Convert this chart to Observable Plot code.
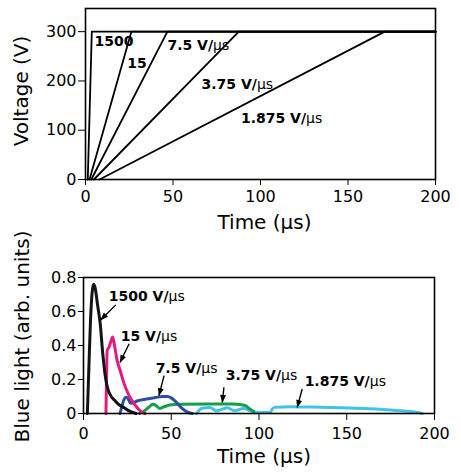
<!DOCTYPE html>
<html><head><meta charset="utf-8">
<script src="https://cdn.jsdelivr.net/npm/d3@7"></script>
<script src="https://cdn.jsdelivr.net/npm/@observablehq/plot@0.6"></script>
<style>
body{margin:0;background:#fff;}
#wrap{position:relative;width:461px;height:475px;}
#toppanel,#botpanel{position:absolute;left:0;}
#toppanel{top:0;} #botpanel{top:245px;}
</style></head><body>
<div id="wrap"><div id="toppanel"></div><div id="botpanel"></div></div>
<script>
// ---------- Top panel: applied voltage ramps ----------
const rates = ["1500", "15", "7.5", "3.75", "1.875"];
const rampStartT = [1.3, 2.3, 3.3, 4.8, 8];        // µs, V = 0
const rampTopT   = [3.6, 26.2, 46.8, 87.6, 171];   // µs, V = 300
const plateauV = 300;
const holdEndT = 200;
const voltTicks = [0, 100, 200, 300];
const timeTicks = [0, 50, 100, 150, 200];

const topLabelText = ["1500", "15", "7.5 V/μs", "3.75 V/μs", "1.875 V/μs"];
const topLabelT = [5.2, 23.9, 46.8, 66.3, 88.8];
const topLabelV = [279, 235, 272, 193, 124];

// ---------- Bottom panel: blue light ----------
const light1500 = [[2.2,0],[3,0.25],[4,0.55],[5,0.72],[5.8,0.76],[6.6,0.74],[8,0.64],[9.5,0.53],[11,0.35],[12.7,0.2],[14,0.14],[15.5,0.105],[17.5,0.08],[19.5,0.058],[23,0.035],[26,0.015],[30,0]];
const light15 = [[12.8,0],[13.1,0.2],[13.5,0.37],[14.5,0.39],[15.5,0.42],[16.6,0.45],[17.5,0.41],[19,0.32],[21,0.25],[23,0.18],[25.5,0.115],[28,0.07],[31,0.03],[33,0.01],[35,0]];
const light7_5 = [[20.8,0],[22,0.045],[23,0.08],[24.3,0.095],[25.5,0.085],[26.8,0.06],[28.5,0.065],[31,0.075],[36,0.085],[41,0.094],[45,0.1],[48,0.1],[50,0.092],[53,0.065],[56,0.032],[59,0.01],[62,0]];
const light3_75 = [[32,0],[34,0.01],[37,0.035],[39.5,0.055],[41.5,0.045],[43.5,0.03],[46,0.04],[49,0.05],[55,0.055],[70,0.056],[85,0.056],[90,0.052],[92.5,0.045],[95,0.025],[97,0.012]];
const light1_875 = [[64.5,0],[66,0.02],[68,0.032],[72,0.035],[76,0.016],[79,0.025],[82,0.034],[86,0.016],[91,0.03],[95,0.016],[98,0.008],[102,0.006],[106.5,0.007],[107.5,0.025],[109,0.036],[118,0.04],[130,0.038],[146,0.034],[160,0.029],[175,0.02],[186,0.012],[191,0.006],[193,0]];
const lightColors = ["#141414", "#e8197d", "#2d4fa3", "#14a04a", "#3fc3ea"];
const lightTicks = [0, 0.2, 0.4, 0.6, 0.8];

const botLabelText = ["1500 V/μs", "15 V/μs", "7.5 V/μs", "3.75 V/μs", "1.875 V/μs"];
const botLabelT = [14.4, 21.2, 41.1, 81, 126];
const botLabelV = [0.686, 0.45, 0.263, 0.223, 0.19];
const arrowFromT = [18.4, 26, 45.9, 80, 124.6];
const arrowFromV = [0.639, 0.41, 0.223, 0.154, 0.144];
const arrowToT   = [9.8, 20.8, 43, 79.1, 121.8];
const arrowToV   = [0.55, 0.30, 0.105, 0.065, 0.036];

// ---------- build tables ----------
const ramps = rates.flatMap((r, i) => [
  {rate: r, t: rampStartT[i], v: 0},
  {rate: r, t: rampTopT[i], v: plateauV},
  {rate: r, t: holdEndT, v: plateauV}
]);
const topLabels = topLabelText.map((s, i) => ({s, t: topLabelT[i], v: topLabelV[i]}));
const series = [light1500, light15, light7_5, light3_75, light1_875];
const botLabels = botLabelText.map((s, i) => ({s, t: botLabelT[i], v: botLabelV[i]}));
const arrows = arrowFromT.map((t, i) => ({x1: t, y1: arrowFromV[i], x2: arrowToT[i], y2: arrowToV[i]}));

const FONT = "DejaVu Sans, sans-serif";

function fixText(svg) {
  d3.select(svg).selectAll("text").each(function () {
    const t = this.textContent; const i = t.indexOf("μs");
    if (i < 0) return;
    const sel = d3.select(this); sel.text(null);
    sel.append("tspan").text(t.slice(0, i));
    sel.append("tspan").attr("font-weight", "normal").text("μs");
    if (t.length > i + 2) sel.append("tspan").text(t.slice(i + 2));
  });
}

const topChart = Plot.plot({
  width: 461, height: 245,
  marginLeft: 85, marginRight: 26, marginTop: 8, marginBottom: 66,
  style: {fontFamily: FONT, fontSize: "16px", color: "black", background: "white", overflow: "visible"},
  x: {domain: [0, 200], ticks: timeTicks, tickSize: 6, tickPadding: 5, label: null},
  y: {domain: [0, 347], ticks: voltTicks, tickSize: 7, tickPadding: 2, label: null},
  marks: [
    Plot.line(ramps, {x: "t", y: "v", z: "rate", stroke: "black", strokeWidth: 1.8}),
    Plot.frame({stroke: "black", strokeWidth: 1.6}),
    Plot.text(topLabels, {x: "t", y: "v", text: "s", textAnchor: "start", fontSize: 14, fontWeight: "bold", fill: "black"}),
    Plot.text(["Voltage (V)"], {frameAnchor: "left", textAnchor: "middle", rotate: -90, dx: -64, dy: -3, fontSize: 20, fill: "black"}),
    Plot.text(["Time (μs)"], {frameAnchor: "bottom", textAnchor: "middle", dx: 4, dy: 49, fontSize: 20, fill: "black"})
  ]
});
fixText(topChart);
document.getElementById("toppanel").append(topChart);

const botChart = Plot.plot({
  width: 461, height: 230,
  marginLeft: 83, marginRight: 27, marginTop: 32, marginBottom: 62,
  style: {fontFamily: FONT, fontSize: "16px", color: "black", background: "white", overflow: "visible"},
  x: {domain: [0, 200], ticks: timeTicks, tickSize: 7, tickPadding: 7, label: null},
  y: {domain: [0, 0.8], ticks: lightTicks, tickFormat: d => String(d), tickSize: 5, tickPadding: 2, label: null},
  marks: [
    ...[4, 3, 2, 1, 0].map(i => Plot.line(series[i], {x: d => d[0], y: d => d[1], stroke: lightColors[i], strokeWidth: 3, curve: "monotone-x"})),
    Plot.frame({stroke: "black", strokeWidth: 1.6}),
    Plot.link(arrows, {x1: "x1", y1: "y1", x2: "x2", y2: "y2", stroke: "black", strokeWidth: 1.4, markerEnd: "arrow"}),
    Plot.text(botLabels, {x: "t", y: "v", text: "s", textAnchor: "start", fontSize: 14, fontWeight: "bold", fill: "black"}),
    Plot.text(["Blue light (arb. units)"], {frameAnchor: "left", textAnchor: "middle", rotate: -90, dx: -61, dy: -9, fontSize: 20, fill: "black"}),
    Plot.text(["Time (μs)"], {frameAnchor: "bottom", textAnchor: "middle", dx: 5, dy: 49, fontSize: 20, fill: "black"})
  ]
});
d3.select(botChart).selectAll("marker")
  .attr("viewBox", "-9 -5 10 10").attr("refX", 0).attr("refY", 0)
  .attr("fill", "black").attr("stroke", "none")
  .select("path").attr("d", "M-8,-3.2L0.5,0L-8,3.2Z");
fixText(botChart);
document.getElementById("botpanel").append(botChart);
</script>
</body></html>
